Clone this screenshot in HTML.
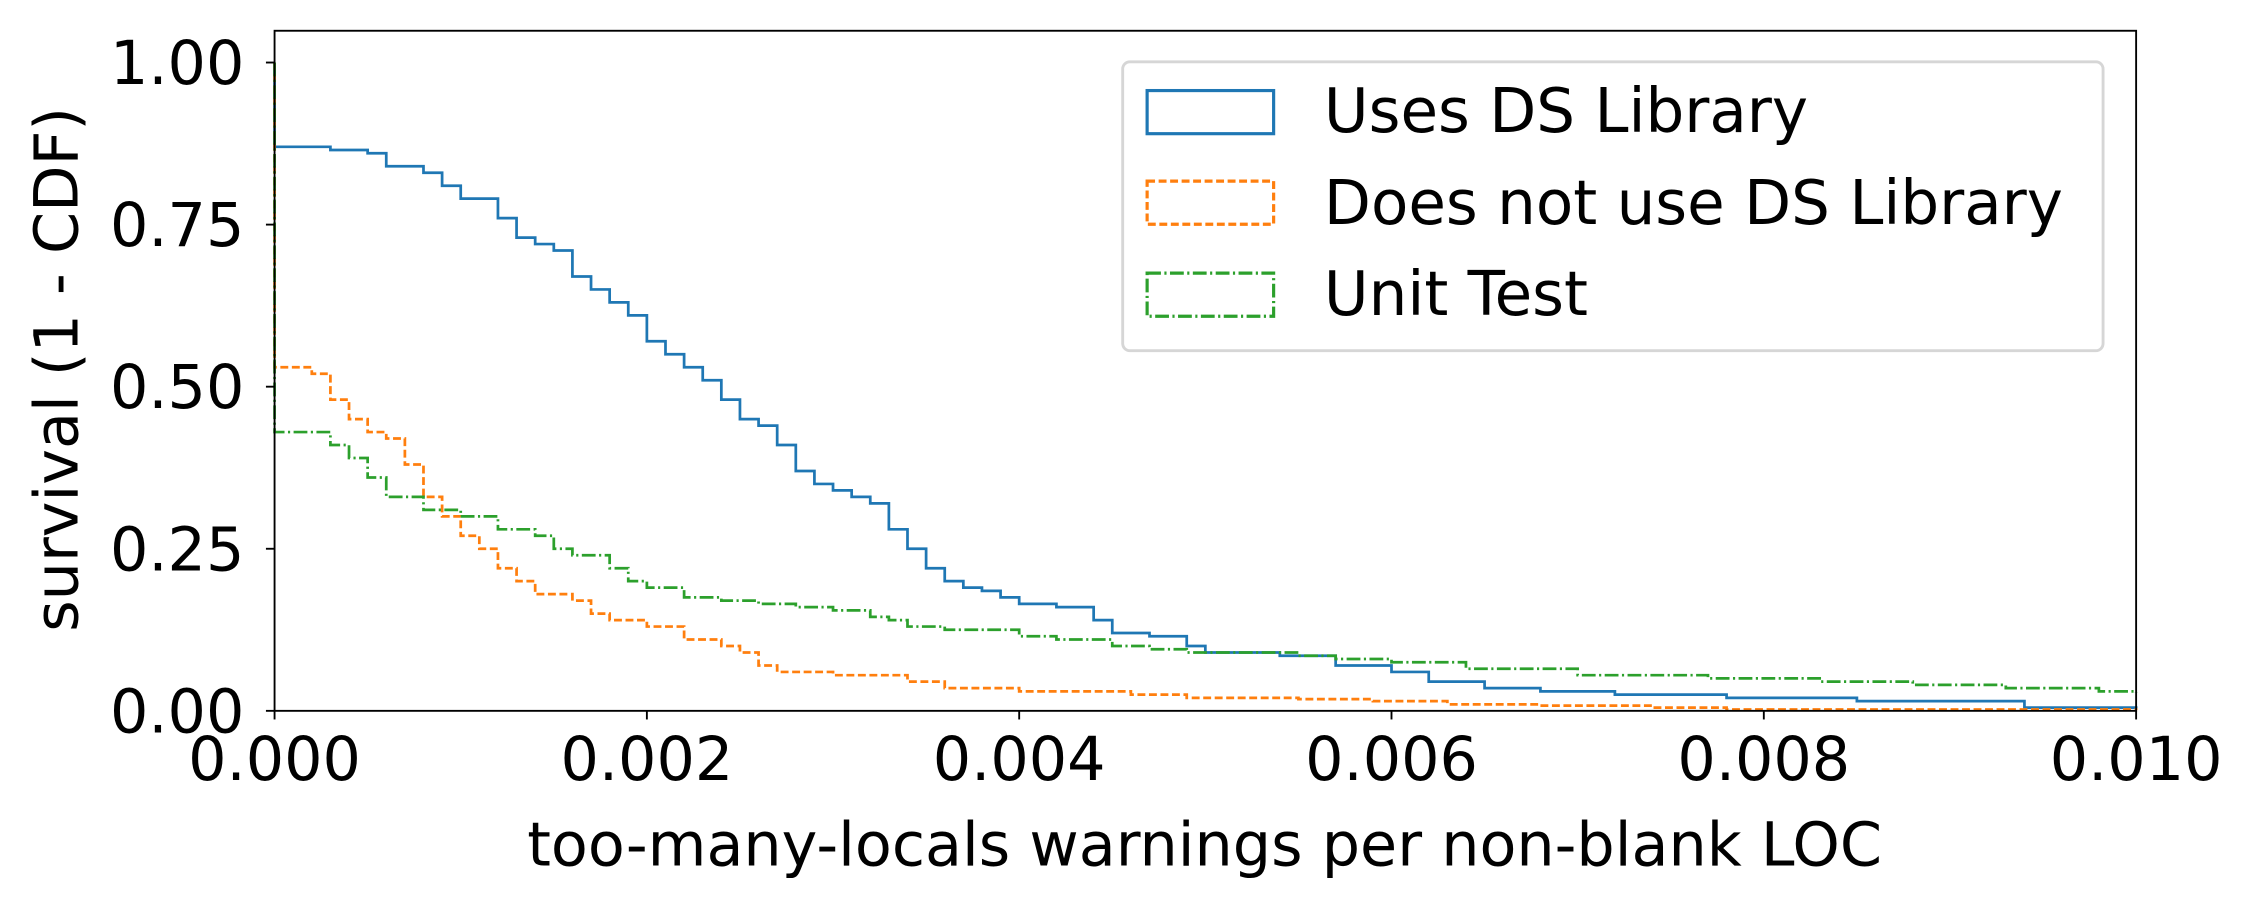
<!DOCTYPE html>
<html><head><meta charset="utf-8"><style>
html,body{margin:0;padding:0;background:#fff;}
svg{display:block;}
text{font-family:"DejaVu Sans","Liberation Sans",sans-serif;fill:#000;}
</style></head><body>
<svg id="chart" width="2254" height="905" viewBox="0 0 1568 629.57" preserveAspectRatio="none" xmlns="http://www.w3.org/2000/svg">
<rect x="0" y="0" width="1568" height="630" fill="#fff"/>
<g id="series"></g>
<g id="axes"></g>
<g id="legend">
  <rect x="781" y="43" width="682" height="201" rx="5" fill="#fff" fill-opacity="0.8" stroke="#d6d6d6" stroke-width="2"/>
  <rect x="798" y="63" width="88" height="30" fill="none" stroke="#1f77b4" stroke-width="2.2"/>
  <text x="921" y="92" font-size="42.5">Uses DS Library</text>
  <rect x="798" y="126" width="88" height="30" fill="none" stroke="#ff7f0e" stroke-width="2.2" stroke-dasharray="5.5 2.5"/>
  <text x="921" y="156" font-size="42.5">Does not use DS Library</text>
  <rect x="798" y="190" width="88" height="30" fill="none" stroke="#2ca02c" stroke-width="2.2" stroke-dasharray="9.6 2.4 1.5 2.4"/>
  <text x="921" y="219" font-size="42.5">Unit Test</text>
</g>
<text x="838" y="602" font-size="42" text-anchor="middle">too-many-locals warnings per non-blank LOC</text>
<text transform="translate(54,257) rotate(-90)" font-size="42" text-anchor="middle">survival (1 - CDF)</text>
</svg>
<script>
const xTicks = [0, 0.002, 0.004, 0.006, 0.008, 0.010];
const xTickLabels = ["0.000", "0.002", "0.004", "0.006", "0.008", "0.010"];
const yTicks = [0, 0.25, 0.5, 0.75, 1.0];
const yTickLabels = ["0.00", "0.25", "0.50", "0.75", "1.00"];
const usesX = [0,0,0.0003,0.0005,0.0006,0.0008,0.0009,0.001,0.0012,0.0013,0.0014,0.0015,0.0016,0.0017,0.0018,0.0019,0.002,0.0021,0.0022,0.0023,0.0024,0.0025,0.0026,0.0027,0.0028,0.0029,0.003,0.0031,0.0032,0.0033,0.0034,0.0035,0.0036,0.0037,0.0038,0.0039,0.004,0.0042,0.0044,0.0045,0.0047,0.0049,0.005,0.0054,0.0057,0.006,0.0062,0.0065,0.0068,0.0072,0.0078,0.0085,0.0094,0.01];
const usesY = [1,0.87,0.865,0.86,0.84,0.83,0.81,0.79,0.76,0.73,0.72,0.71,0.67,0.65,0.63,0.61,0.57,0.55,0.53,0.51,0.48,0.45,0.44,0.41,0.37,0.35,0.34,0.33,0.32,0.28,0.25,0.22,0.2,0.19,0.185,0.175,0.165,0.16,0.14,0.12,0.115,0.1,0.09,0.085,0.07,0.06,0.045,0.035,0.03,0.025,0.02,0.015,0.005,0.003];
const noDsX = [0,0,0.0002,0.0003,0.0004,0.0005,0.0006,0.0007,0.0008,0.0009,0.001,0.0011,0.0012,0.0013,0.0014,0.0016,0.0017,0.0018,0.002,0.0022,0.0024,0.0025,0.0026,0.0027,0.003,0.0034,0.0036,0.004,0.0046,0.0049,0.0055,0.0059,0.0063,0.0068,0.0074,0.0078,0.01];
const noDsY = [1,0.53,0.52,0.48,0.45,0.43,0.42,0.38,0.33,0.3,0.27,0.25,0.22,0.2,0.18,0.17,0.15,0.14,0.13,0.11,0.1,0.09,0.07,0.06,0.055,0.045,0.035,0.03,0.025,0.02,0.018,0.015,0.01,0.008,0.005,0.002,0.001];
const unitX = [0,0,0.0003,0.0004,0.0005,0.0006,0.0008,0.001,0.0012,0.0014,0.0015,0.0016,0.0018,0.0019,0.002,0.0022,0.0024,0.0026,0.0028,0.003,0.0032,0.0033,0.0034,0.0036,0.004,0.0042,0.0045,0.0047,0.0049,0.0055,0.0057,0.006,0.0064,0.007,0.0077,0.0083,0.0088,0.0093,0.0098,0.01];
const unitY = [1,0.43,0.41,0.39,0.36,0.33,0.31,0.3,0.28,0.27,0.25,0.24,0.22,0.2,0.19,0.175,0.17,0.165,0.16,0.155,0.145,0.14,0.13,0.125,0.115,0.11,0.1,0.095,0.09,0.085,0.08,0.075,0.065,0.055,0.05,0.045,0.04,0.035,0.03,0.028];

const L = 191, R = 1486, T = 21.4, B = 494.5, Y1 = 43.5;
const NS = "http://www.w3.org/2000/svg";
function sx(v){ return L + (v - 0) / 0.01 * (R - L); }
function sy(v){ return B - v * (B - Y1); }
function mk(tag, attrs, parent){ const e = document.createElementNS(NS, tag); for (const k in attrs) e.setAttribute(k, attrs[k]); parent.appendChild(e); return e; }

const ser = document.getElementById('series');
function step(xs, ys, color, dash, name){
  let d = 'M' + sx(xs[0]) + ' ' + sy(ys[0]);
  for (let i = 1; i < xs.length; i++){
    d += ' H' + sx(xs[i]) + ' V' + sy(ys[i]);
  }
  const p = mk('path', {d: d, fill: 'none', stroke: color, 'stroke-width': 1.9}, ser);
  if (dash) p.setAttribute('stroke-dasharray', dash);
  
  
}
step(usesX, usesY, '#1f77b4', null, 'line-uses-ds-library');
step(noDsX, noDsY, '#ff7f0e', '5.5 2.5', 'line-no-ds-library');
step(unitX, unitY, '#2ca02c', '9.6 2.4 1.5 2.4', 'line-unit-test');

const ax = document.getElementById('axes');
const frame = mk('rect', {x: L, y: T, width: R - L, height: B - T, fill: 'none', stroke: '#000', 'stroke-width': 1.3}, ax);


xTicks.forEach((v, i) => {
  const t = mk('line', {x1: sx(v), x2: sx(v), y1: B, y2: B + 6, stroke: '#000', 'stroke-width': 1.3}, ax);
  
  
  const lb = mk('text', {x: sx(v), y: B + 48, 'font-size': 42, 'text-anchor': 'middle'}, ax);
  lb.textContent = xTickLabels[i];
  
  
});
yTicks.forEach((v, i) => {
  const t = mk('line', {x1: L - 6, x2: L, y1: sy(v), y2: sy(v), stroke: '#000', 'stroke-width': 1.3}, ax);
  
  
  const lb = mk('text', {x: L - 21, y: sy(v) + 15, 'font-size': 42, 'text-anchor': 'end'}, ax);
  lb.textContent = yTickLabels[i];
  
  
});
</script>
</body></html>
